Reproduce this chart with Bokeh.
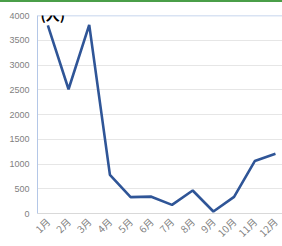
import math
from bokeh.plotting import figure
from bokeh.models import FixedTicker, Span, Label, Range1d
from bokeh.embed import file_html
from bokeh.resources import INLINE

months = ["1月", "2月", "3月", "4月", "5月", "6月", "7月", "8月", "9月", "10月", "11月", "12月"]
month_idx = list(range(1, 13))
values = [3800, 2510, 3810, 780, 330, 340, 175, 465, 40, 335, 1060, 1205]
y_ticks = [0, 500, 1000, 1500, 2000, 2500, 3000, 3500, 4000]

p = figure(frame_width=245, frame_height=198, output_backend="svg", toolbar_location=None,
           x_range=Range1d(0.5, 12.34), y_range=Range1d(0, 4000),
           min_border_left=37, min_border_right=0, min_border_top=13, min_border_bottom=33)
p.styles = {"border-top": "2px solid #4a9e48"}
p.outline_line_color = None
p.background_fill_color = "white"
p.border_fill_color = "white"

p.line(month_idx, values, line_color="#2f5597", line_width=2.6)

p.xaxis.ticker = FixedTicker(ticks=month_idx)
p.xaxis.major_label_overrides = {i: m for i, m in zip(month_idx, months)}
p.xaxis.major_label_orientation = math.pi / 4
p.xaxis.axis_line_color = "#d9d9d9"
p.xaxis.major_tick_line_color = None
p.xaxis.major_tick_out = 0
p.xaxis.minor_tick_line_color = None
p.xaxis.minor_tick_out = 0
p.xaxis.major_label_text_color = "#7f7f7f"
p.xaxis.major_label_text_font = "Noto Sans CJK JP"
p.xaxis.major_label_text_font_size = "10px"
p.xaxis.major_label_standoff = 6

p.yaxis.ticker = FixedTicker(ticks=y_ticks)
p.yaxis.axis_line_color = "#b4c7e7"
p.yaxis.major_tick_line_color = None
p.yaxis.major_tick_out = 0
p.yaxis.minor_tick_line_color = None
p.yaxis.minor_tick_out = 0
p.yaxis.major_label_text_color = "#7f7f7f"
p.yaxis.major_label_text_font = "Liberation Sans"
p.yaxis.major_label_text_font_size = "9px"
p.yaxis.major_label_standoff = 8

p.xgrid.grid_line_color = None
p.ygrid.ticker = FixedTicker(ticks=y_ticks)
p.ygrid.grid_line_color = "#e6e6e6"

p.add_layout(Span(location=4000, dimension="width", line_color="#b4c7e7", line_width=1.5))
p.add_layout(Label(x=3, y=200, x_units="screen", y_units="screen", text="(人)",
                   text_font="Noto Sans CJK JP", text_font_size="14px", level="overlay",
                   text_font_style="bold", text_color="black", text_baseline="alphabetic"))

open("out.html", "w").write(file_html(p, INLINE))
